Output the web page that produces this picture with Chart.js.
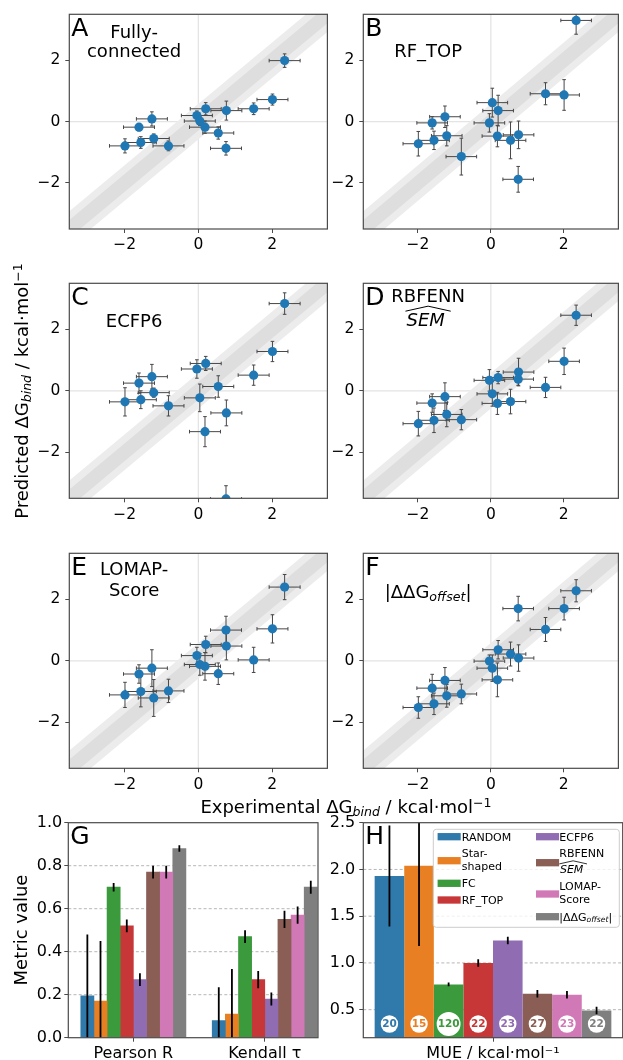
<!DOCTYPE html>
<html>
<head>
<meta charset="utf-8">
<title>Predicted vs experimental binding free energies</title>
<script src="https://cdn.jsdelivr.net/npm/chart.js@4/dist/chart.umd.min.js"></script>
<style>
  html, body { margin: 0; padding: 0; background: #fff; width: 623px; height: 1060px; overflow: hidden; }
  canvas { position: absolute; }
  .lbl { position: absolute; font-family: 'DejaVu Sans'; font-size: 18px; line-height: 18px; white-space: nowrap; color: #000; }
  .lbl sub { font-size: 0.7em; font-style: italic; line-height: 0; vertical-align: -0.22em; }
  .lbl sup { font-size: 0.7em; line-height: 0; vertical-align: 0.5em; }
  .rot { transform: translate(-50%, -50%) rotate(-90deg); }
</style>
</head>
<body>
<canvas id="panelA"></canvas>
<canvas id="panelB"></canvas>
<canvas id="panelC"></canvas>
<canvas id="panelD"></canvas>
<canvas id="panelE"></canvas>
<canvas id="panelF"></canvas>
<canvas id="panelG"></canvas>
<canvas id="panelH"></canvas>
<div class="lbl rot" style="left:22px; top:391px">Predicted ΔG<sub>bind</sub> / kcal·mol<sup>−1</sup></div>
<div class="lbl" style="left:346px; top:798px; transform: translateX(-50%)">Experimental ΔG<sub>bind</sub> / kcal·mol<sup>−1</sup></div>
<div class="lbl rot" style="left:21px; top:930px">Metric value</div>
<script>
// experimental values, shared by the six scatter panels
const expDG = [2.34, 2.01, 1.50, 0.76, 0.20, -0.04, 0.04, 0.18, 0.54, 0.75, -1.26, -1.61, -1.21, -1.56, -1.99, -0.81];
const expErr = 0.42;

// predicted values per network
const predFC     = [1.99, 0.72, 0.42, 0.36, 0.42, 0.20, 0.02, -0.18, -0.37, -0.87, 0.09, -0.18, -0.55, -0.68, -0.79, -0.79];
const errFC      = [0.22, 0.18, 0.19, 0.31, 0.20, 0.15, 0.15, 0.20, 0.20, 0.22, 0.23, 0.12, 0.15, 0.19, 0.23, 0.16];
const predRFTOP  = [3.30, 0.87, 0.91, -0.43, 0.36, -0.04, 0.62, -0.47, -0.61, -1.88, 0.16, -0.04, -0.46, -0.61, -0.72, -1.14];
const errRFTOP   = [0.45, 0.50, 0.36, 0.45, 0.50, 0.30, 0.47, 0.35, 0.60, 0.42, 0.35, 0.20, 0.33, 0.30, 0.40, 0.60];
const predECFP6  = [2.84, 1.28, 0.51, -0.72, 0.89, 0.71, -0.23, -1.33, 0.14, -3.52, 0.46, 0.25, -0.06, -0.29, -0.36, -0.49];
const errECFP6   = [0.35, 0.33, 0.33, 0.42, 0.23, 0.30, 0.45, 0.49, 0.35, 0.43, 0.40, 0.33, 0.15, 0.29, 0.46, 0.33];
const predRBFENN = [2.46, 0.96, 0.11, 0.61, 0.43, 0.34, -0.10, -0.41, -0.35, 0.38, -0.19, -0.40, -0.77, -0.96, -1.07, -0.94];
const errRBFENN  = [0.33, 0.43, 0.33, 0.45, 0.20, 0.35, 0.40, 0.36, 0.40, 0.20, 0.45, 0.30, 0.40, 0.40, 0.40, 0.33];
const predLOMAP  = [2.40, 1.04, 0.03, 0.48, 0.53, 0.17, -0.12, -0.18, -0.42, 1.00, -0.24, -0.43, -1.21, -1.00, -1.11, -0.98];
const errLOMAP   = [0.41, 0.46, 0.41, 0.45, 0.27, 0.27, 0.35, 0.45, 0.35, 0.45, 0.60, 0.30, 0.60, 0.50, 0.41, 0.38];
const predOffset = [2.28, 1.70, 1.02, 0.09, 0.36, -0.01, -0.24, -0.62, 0.22, 1.70, -0.64, -0.89, -1.14, -1.40, -1.52, -1.08];
const errOffset  = [0.36, 0.37, 0.39, 0.43, 0.30, 0.20, 0.43, 0.55, 0.39, 0.40, 0.42, 0.45, 0.37, 0.35, 0.35, 0.32];

const scatterTicks = [-2, 0, 2];
const scatterRange = [-3.5, 3.5];

// summary metrics
const methods     = ['RANDOM', 'Star-shaped', 'FC', 'RF_TOP', 'ECFP6', 'RBFENN SEM', 'LOMAP-Score', '|ΔΔG offset|'];
const methodLines = [['RANDOM'], ['Star-', 'shaped'], ['FC'], ['RF_TOP'], ['ECFP6'], ['RBFENN', '$SEM$'], ['LOMAP-', 'Score'], ['|ΔΔG_offset|']];
const metricNames = ['Pearson R', 'Kendall τ'];
const pearsonR    = [0.195, 0.17, 0.70, 0.52, 0.27, 0.77, 0.77, 0.88];
const pearsonErr  = [0.285, 0.28, 0.02, 0.03, 0.03, 0.03, 0.03, 0.015];
const kendallTau  = [0.08, 0.11, 0.47, 0.27, 0.18, 0.55, 0.57, 0.70];
const kendallErr  = [0.155, 0.21, 0.03, 0.04, 0.03, 0.04, 0.04, 0.03];
const mue         = [1.93, 2.04, 0.77, 1.00, 1.24, 0.67, 0.66, 0.49];
const mueErr      = [0.54, 0.86, 0.02, 0.04, 0.04, 0.04, 0.04, 0.04];
const edgeCounts  = [20, 15, 120, 22, 23, 27, 23, 22];
const metricTicks = [0, 0.2, 0.4, 0.6, 0.8, 1.0];
const mueTicks    = [0.5, 1.0, 1.5, 2.0, 2.5];

const TAB = ['#1f77b4', '#ff7f0e', '#2ca02c', '#d62728', '#9467bd', '#8c564b', '#e377c2', '#7f7f7f'];
const FONT = "'DejaVu Sans'";
const FRAME = '#4a4a4a';

Chart.defaults.font.family = FONT;
Chart.defaults.color = '#000';

// bar fill: tab colour muted slightly towards grey, as in the figure
function muted(hex) {
  const n = parseInt(hex.slice(1), 16);
  const mix = c => Math.round(c * 0.82 + 128 * 0.18);
  return `rgb(${mix(n >> 16)},${mix((n >> 8) & 255)},${mix(n & 255)})`;
}
function fmtMinus(v) { return v < 0 ? '\u2212' + Math.abs(v) : String(v); }

function setupCanvas(id, box) {
  const cv = document.getElementById(id);
  cv.width = box.w; cv.height = box.h;
  cv.style.left = box.left + 'px'; cv.style.top = box.top + 'px';
  cv.style.width = box.w + 'px'; cv.style.height = box.h + 'px';
  return cv;
}
// padding/axis sizes that put the chart area on the given pixels
function fitArea(box, area) {
  return {
    top: area.top - box.top,
    right: box.left + box.w - area.right,
    yW: area.left - box.left,
    xH: box.top + box.h - area.bottom
  };
}

function axisStyle(size, pad) {
  return {
    grid: { drawOnChartArea: false, drawTicks: true, tickLength: 4, tickWidth: 1, tickColor: FRAME, color: FRAME, offset: false },
    border: { display: false },
    ticks: { color: '#000', font: { family: FONT, size: size }, padding: pad, autoSkip: false, maxRotation: 0, minRotation: 0 }
  };
}

function drawFrame(chart) {
  const { ctx, chartArea: a } = chart;
  ctx.save();
  ctx.strokeStyle = FRAME;
  ctx.lineWidth = 1.2;
  ctx.strokeRect(a.left, a.top, a.right - a.left, a.bottom - a.top);
  ctx.restore();
}

// text with optional _subscript or the hatted SEM symbol
function drawRich(ctx, text, x, y, size, align) {
  ctx.textAlign = 'left';
  ctx.textBaseline = 'alphabetic';
  ctx.fillStyle = '#000';
  if (text === '$SEM$') {
    ctx.font = `italic ${size}px ${FONT}`;
    const w = ctx.measureText('SEM').width;
    const full = w + 0.385 * size;
    const x0 = (align === 'center' ? x - full / 2 : x) + 0.055 * size;
    ctx.fillText('SEM', x0, y);
    ctx.strokeStyle = '#000';
    ctx.lineWidth = size > 14 ? 1 : 0.8;
    ctx.beginPath();
    ctx.moveTo(x0 - 0.055 * size, y - 0.8 * size);
    ctx.lineTo(x0 + (w + 0.275 * size) / 2, y - 1.08 * size);
    ctx.lineTo(x0 + w + 0.33 * size, y - 0.8 * size);
    ctx.stroke();
    return;
  }
  const m = text.match(/^(.*)_([a-z]+)(.*)$/);
  const parts = m ? [[m[1], false], [m[2], true], [m[3], false]] : [[text, false]];
  const fontOf = sub => sub ? `italic ${size * 0.7}px ${FONT}` : `${size}px ${FONT}`;
  let total = 0;
  const widths = parts.map(([t, sub]) => { ctx.font = fontOf(sub); const w = ctx.measureText(t).width; total += w; return w; });
  let cx = align === 'center' ? x - total / 2 : x;
  parts.forEach(([t, sub], i) => {
    ctx.font = fontOf(sub);
    ctx.fillText(t, cx, y + (sub ? 0.15 * size : 0));
    cx += widths[i];
  });
}

function drawLetter(chart, letter) {
  const { ctx, chartArea: a } = chart;
  ctx.save();
  ctx.font = `25px ${FONT}`;
  ctx.fillStyle = '#000';
  ctx.textAlign = 'left';
  ctx.textBaseline = 'alphabetic';
  ctx.fillText(letter, a.left + 2, a.top + 21.5);
  ctx.restore();
}

function scatterDecor(p) {
  return {
    id: 'scatterDecor',
    beforeDatasetsDraw(chart) {
      const { ctx, chartArea: a, scales: { x, y } } = chart;
      const px = v => x.getPixelForValue(v), py = v => y.getPixelForValue(v);
      ctx.save();
      ctx.beginPath();
      ctx.rect(a.left, a.top, a.right - a.left, a.bottom - a.top);
      ctx.clip();
      ctx.strokeStyle = '#e4e4e4';
      ctx.lineWidth = 1.3;
      ctx.beginPath();
      ctx.moveTo(px(0), a.top); ctx.lineTo(px(0), a.bottom);
      ctx.moveTo(a.left, py(0)); ctx.lineTo(a.right, py(0));
      ctx.stroke();
      [[0.58, '#ececec'], [0.29, '#dedede']].forEach(([h, c]) => {
        ctx.fillStyle = c;
        ctx.beginPath();
        ctx.moveTo(px(-6), py(-6 + h)); ctx.lineTo(px(6), py(6 + h));
        ctx.lineTo(px(6), py(6 - h)); ctx.lineTo(px(-6), py(-6 - h));
        ctx.closePath();
        ctx.fill();
      });
      const ds = chart.data.datasets[0];
      ctx.strokeStyle = '#474747';
      ctx.lineWidth = 1;
      ds.data.forEach((pt, i) => {
        const cx = px(pt.x), cy = py(pt.y);
        const x1 = px(pt.x - expErr), x2 = px(pt.x + expErr);
        const y1 = py(pt.y + ds.yErr[i]), y2 = py(pt.y - ds.yErr[i]);
        ctx.beginPath();
        ctx.moveTo(x1, cy); ctx.lineTo(x2, cy);
        ctx.moveTo(cx, y1); ctx.lineTo(cx, y2);
        ctx.moveTo(x1, cy - 1.8); ctx.lineTo(x1, cy + 1.8);
        ctx.moveTo(x2, cy - 1.8); ctx.lineTo(x2, cy + 1.8);
        ctx.moveTo(cx - 1.8, y1); ctx.lineTo(cx + 1.8, y1);
        ctx.moveTo(cx - 1.8, y2); ctx.lineTo(cx + 1.8, y2);
        ctx.stroke();
      });
      ctx.restore();
    },
    afterDatasetsDraw(chart) {
      drawFrame(chart);
      drawLetter(chart, p.letter);
      const { ctx, chartArea: a } = chart;
      ctx.save();
      p.lines.forEach((t, i) => drawRich(ctx, t, a.left + 64.8, a.top + p.base[i], 18, 'center'));
      ctx.restore();
    }
  };
}

const colBox = [{ left: 0, w: 332, aL: 69.3, aR: 329 }, { left: 332, w: 291, aL: 363.3, aR: 622.8 }];
const rowBox = [{ top: 0, h: 262, aT: 14, aB: 229 }, { top: 262, h: 270, aT: 283.3, aB: 498.3 }, { top: 532, h: 262, aT: 553.3, aB: 768.3 }];

const scatterPanels = [
  { id: 'panelA', col: 0, row: 0, letter: 'A', lines: ['Fully-', 'connected'], base: [23.3, 42.7], pred: predFC, err: errFC },
  { id: 'panelB', col: 1, row: 0, letter: 'B', lines: ['RF_TOP'], base: [42.7], pred: predRFTOP, err: errRFTOP },
  { id: 'panelC', col: 0, row: 1, letter: 'C', lines: ['ECFP6'], base: [43.3], pred: predECFP6, err: errECFP6 },
  { id: 'panelD', col: 1, row: 1, letter: 'D', lines: ['RBFENN', '$SEM$'], base: [19, 42.3], pred: predRBFENN, err: errRBFENN },
  { id: 'panelE', col: 0, row: 2, letter: 'E', lines: ['LOMAP-', 'Score'], base: [21.7, 42.7], pred: predLOMAP, err: errLOMAP },
  { id: 'panelF', col: 1, row: 2, letter: 'F', lines: ['|ΔΔG_offset|'], base: [45], pred: predOffset, err: errOffset }
];

scatterPanels.forEach(p => {
  const c = colBox[p.col], r = rowBox[p.row];
  const box = { left: c.left, top: r.top, w: c.w, h: r.h };
  const f = fitArea(box, { left: c.aL, right: c.aR, top: r.aT, bottom: r.aB });
  const xs = axisStyle(15.5, 3), ys = axisStyle(15.5, 5);
  new Chart(setupCanvas(p.id, box), {
    type: 'scatter',
    data: {
      datasets: [{
        data: expDG.map((x, i) => ({ x: x, y: p.pred[i] })),
        yErr: p.err,
        backgroundColor: TAB[0],
        borderWidth: 0,
        pointRadius: 4.6,
        pointHoverRadius: 4.6,
        clip: 0
      }]
    },
    options: {
      responsive: false, animation: false, devicePixelRatio: 1, events: [],
      layout: { padding: { left: 0, top: f.top, right: f.right, bottom: 0 } },
      plugins: { legend: { display: false }, tooltip: { enabled: false } },
      scales: {
        x: Object.assign(xs, {
          type: 'linear', min: scatterRange[0], max: scatterRange[1],
          afterBuildTicks: s => { s.ticks = scatterTicks.map(v => ({ value: v })); },
          afterFit: s => { s.height = f.xH; },
          ticks: Object.assign(xs.ticks, { callback: fmtMinus })
        }),
        y: Object.assign(ys, {
          type: 'linear', min: scatterRange[0], max: scatterRange[1],
          afterBuildTicks: s => { s.ticks = scatterTicks.map(v => ({ value: v })); },
          afterFit: s => { s.width = f.yW; },
          ticks: Object.assign(ys.ticks, { callback: fmtMinus })
        })
      }
    },
    plugins: [scatterDecor(p)]
  });
});

// bar panels
function barDecor(letter, withBadges) {
  return {
    id: 'barDecor',
    beforeDatasetsDraw(chart) {
      const { ctx, chartArea: a, scales: { y } } = chart;
      ctx.save();
      ctx.strokeStyle = '#a3a3a3';
      ctx.lineWidth = 0.8;
      ctx.setLineDash([3, 2.2]);
      y.ticks.forEach(t => {
        if (t.value <= y.min + 1e-6 || t.value >= y.max - 1e-6) return;
        const yy = y.getPixelForValue(t.value);
        ctx.beginPath(); ctx.moveTo(a.left, yy); ctx.lineTo(a.right, yy); ctx.stroke();
      });
      ctx.restore();
    },
    afterDatasetsDraw(chart) {
      const { ctx, chartArea: a, scales: { y } } = chart;
      ctx.save();
      ctx.beginPath();
      ctx.rect(a.left, a.top, a.right - a.left, a.bottom - a.top);
      ctx.clip();
      ctx.strokeStyle = '#000';
      ctx.lineWidth = 1.8;
      chart.data.datasets.forEach((ds, i) => {
        const meta = chart.getDatasetMeta(i);
        meta.data.forEach((el, j) => {
          const v = meta.controller.getParsed(j).y;
          ctx.beginPath();
          ctx.moveTo(el.x, y.getPixelForValue(v + ds.errs[j]));
          ctx.lineTo(el.x, y.getPixelForValue(v - ds.errs[j]));
          ctx.stroke();
        });
      });
      if (withBadges) {
        const yc = a.bottom - 13.7;
        chart.data.datasets.forEach((ds, i) => {
          const el = chart.getDatasetMeta(i).data[0];
          const label = String(edgeCounts[i]);
          ctx.font = `bold 10.5px ${FONT}`;
          const tw = ctx.measureText(label).width;
          const r = Math.max(8.7, tw / 2 + 1);
          ctx.fillStyle = '#fff';
          ctx.beginPath(); ctx.arc(el.x, yc, r, 0, 2 * Math.PI); ctx.fill();
          ctx.fillStyle = ds.backgroundColor;
          ctx.textAlign = 'center';
          ctx.textBaseline = 'middle';
          ctx.fillText(label, el.x, yc + 0.5);
        });
      }
      ctx.restore();
      drawFrame(chart);
    },
    afterDraw(chart) {
      drawLetter(chart, letter);
      if (withBadges) drawLegend(chart);
    }
  };
}

// legend slots inside panel H (pixel layout)
const legendSlots = [
  { col: 0, patch: 7.4, base: [11.4] },
  { col: 0, patch: 31.4, base: [27.4, 40.7] },
  { col: 0, patch: 54, base: [58] },
  { col: 0, patch: 70.7, base: [74.7] },
  { col: 1, patch: 7.4, base: [11.4] },
  { col: 1, patch: 33.4, base: [28, 43.4] },
  { col: 1, patch: 64.7, base: [60.7, 73.4] },
  { col: 1, patch: 87.4, base: [91.4] }
];

function drawLegend(chart) {
  const { ctx, chartArea: a } = chart;
  const bx = a.right - 189.4, by = a.top + 6.6, bw = 186, bh = 98;
  const patchX = [4.3, 102.7], textX = [28.4, 126];
  ctx.save();
  ctx.beginPath();
  ctx.roundRect(bx, by, bw, bh, 3);
  ctx.fillStyle = 'rgba(255,255,255,0.8)';
  ctx.fill();
  ctx.strokeStyle = '#cccccc';
  ctx.lineWidth = 1;
  ctx.stroke();
  chart.data.datasets.forEach((ds, i) => {
    const s = legendSlots[i];
    ctx.fillStyle = ds.backgroundColor;
    ctx.fillRect(bx + patchX[s.col], by + s.patch - 3.65, 23.1, 7.3);
    methodLines[i].forEach((t, k) => drawRich(ctx, t, bx + textX[s.col], by + s.base[k], 11, 'left'));
  });
  ctx.restore();
}

const GROUP_STRIDE = 10;
const slotX = (g, i) => g * GROUP_STRIDE + i + 1.5;

(function () {
  const box = { left: 0, top: 808, w: 320, h: 252 };
  const f = fitArea(box, { left: 68.3, right: 318, top: 822.7, bottom: 1037.7 });
  const xs = axisStyle(16, 3), ys = axisStyle(16, 2);
  new Chart(setupCanvas('panelG', box), {
    type: 'bar',
    data: {
      datasets: methods.map((m, i) => ({
        label: m,
        data: [{ x: slotX(0, i), y: pearsonR[i] }, { x: slotX(1, i), y: kendallTau[i] }],
        errs: [pearsonErr[i], kendallErr[i]],
        backgroundColor: muted(TAB[i]),
        grouped: false, categoryPercentage: 1, barPercentage: 1, borderWidth: 0
      }))
    },
    options: {
      responsive: false, animation: false, devicePixelRatio: 1, events: [],
      layout: { padding: { left: 0, top: f.top, right: f.right, bottom: 0 } },
      plugins: { legend: { display: false }, tooltip: { enabled: false } },
      scales: {
        x: Object.assign(xs, {
          type: 'linear', min: 0.05, max: 19.05, offset: false,
          afterBuildTicks: s => { s.ticks = metricNames.map((n, g) => ({ value: g * GROUP_STRIDE + 5 })); },
          afterFit: s => { s.height = f.xH; },
          ticks: Object.assign(xs.ticks, { callback: v => metricNames[Math.round((v - 5) / GROUP_STRIDE)] })
        }),
        y: Object.assign(ys, {
          type: 'linear', min: 0, max: 1,
          afterBuildTicks: s => { s.ticks = metricTicks.map(v => ({ value: v })); },
          afterFit: s => { s.width = f.yW; },
          ticks: Object.assign(ys.ticks, { callback: v => v.toFixed(1) })
        })
      }
    },
    plugins: [barDecor('G', false)]
  });
})();

(function () {
  const box = { left: 320, top: 808, w: 303, h: 252 };
  const f = fitArea(box, { left: 363.3, right: 622.7, top: 822.7, bottom: 1037.7 });
  const xs = axisStyle(16, 3), ys = axisStyle(16, 4);
  new Chart(setupCanvas('panelH', box), {
    type: 'bar',
    data: {
      labels: ['MUE / kcal·mol⁻¹'],
      datasets: methods.map((m, i) => ({
        label: m,
        data: [mue[i]],
        errs: [mueErr[i]],
        backgroundColor: muted(TAB[i]),
        categoryPercentage: 0.9125, barPercentage: 1, borderWidth: 0
      }))
    },
    options: {
      responsive: false, animation: false, devicePixelRatio: 1, events: [],
      layout: { padding: { left: 0, top: f.top, right: f.right, bottom: 0 } },
      plugins: { legend: { display: false }, tooltip: { enabled: false } },
      scales: {
        x: Object.assign(xs, {
          type: 'category', offset: true,
          afterFit: s => { s.height = f.xH; }
        }),
        y: Object.assign(ys, {
          type: 'linear', min: 0.2, max: 2.5,
          afterBuildTicks: s => { s.ticks = mueTicks.map(v => ({ value: v })); },
          afterFit: s => { s.width = f.yW; },
          ticks: Object.assign(ys.ticks, { callback: v => v.toFixed(1) })
        })
      }
    },
    plugins: [barDecor('H', true)]
  });
})();
</script>
</body>
</html>
